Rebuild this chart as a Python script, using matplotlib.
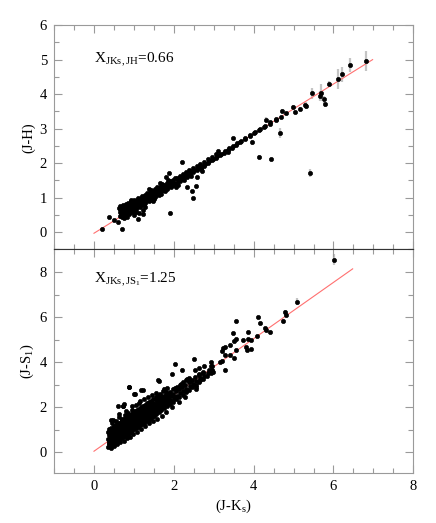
import matplotlib
matplotlib.use('Agg')
import matplotlib.pyplot as plt
from matplotlib.ticker import MultipleLocator

plt.rcParams['font.family'] = ['Liberation Serif', 'DejaVu Serif']
plt.rcParams['mathtext.fontset'] = 'custom'
plt.rcParams['mathtext.rm'] = 'Liberation Serif'
plt.rcParams['mathtext.it'] = 'Liberation Serif:italic'

# ── top panel: (J-Ks) vs (J-H), main sequence ───────────────────────────────
TOP_JK = [
    0.64, 0.655, 0.63,
    0.67, 0.685, 0.66, 0.69,
    0.70, 0.715, 0.69, 0.72,
    0.74, 0.755, 0.73, 0.76,
    0.78, 0.795, 0.77, 0.80,
    0.82, 0.835, 0.81, 0.84, 0.805,
    0.86, 0.875, 0.85, 0.88,
    0.90, 0.915, 0.89, 0.92, 0.885,
    0.94, 0.955, 0.93, 0.96,
    0.98, 0.995, 0.97, 1.00, 0.965,
    1.03, 1.045, 1.02, 1.05,
    1.08, 1.095, 1.07, 1.10, 1.065,
    1.13, 1.145, 1.12, 1.15,
    1.18, 1.195, 1.17, 1.20, 1.165,
    1.24, 1.255, 1.23, 1.26,
    1.30, 1.315, 1.29, 1.32, 1.285,
    1.36, 1.375, 1.35, 1.38,
    1.42, 1.435, 1.41, 1.44, 1.405,
    1.48, 1.495, 1.47, 1.50,
    1.55, 1.565, 1.54, 1.57, 1.535,
    1.62, 1.635, 1.61, 1.64,
    1.69, 1.705, 1.68, 1.71, 1.675,
    1.76, 1.775, 1.75, 1.78,
    1.84, 1.855, 1.83, 1.86, 1.825,
    1.92, 1.935, 1.91, 1.94,
    2.00, 2.015, 1.99, 2.02,
    2.08, 2.095, 2.07, 2.10,
    2.16, 2.175, 2.15,
    2.24, 2.255, 2.23, 2.26,
    2.32, 2.335, 2.31,
    2.40, 2.415, 2.39, 2.42,
    2.49, 2.505, 2.48,
    2.58, 2.595, 2.57,
    2.67, 2.685, 2.66, 2.69,
    2.76, 2.775, 2.75,
    2.86, 2.875, 2.85,
    2.96, 2.975, 2.95,
    3.06, 3.075, 3.05,
    3.16, 3.175,
    3.26, 3.275,
    3.36, 3.375, 3.35,
    3.46, 3.475,
    3.56, 3.575,
    3.66, 3.675,
    3.78, 3.795,
    3.90, 3.915,
    4.02, 4.035,
    4.14, 4.155,
    4.26, 4.275,
    4.40, 4.415,
    4.55, 4.565,
    4.68, 4.80,
    # in-fill
    0.66, 0.72, 0.79, 0.87, 0.95, 1.05, 1.15, 1.27, 1.39, 1.52, 1.66,
    1.80, 1.96, 2.12, 2.28, 2.45,
]
TOP_JH = [
    0.48, 0.58, 0.70,
    0.52, 0.63, 0.76, 0.44,
    0.50, 0.60, 0.68, 0.79,
    0.55, 0.66, 0.74, 0.47,
    0.54, 0.63, 0.72, 0.81,
    0.58, 0.67, 0.76, 0.85, 0.50,
    0.61, 0.71, 0.80, 0.54,
    0.64, 0.73, 0.83, 0.90, 0.57,
    0.66, 0.76, 0.85, 0.60,
    0.69, 0.78, 0.88, 0.94, 0.63,
    0.72, 0.81, 0.90, 0.66,
    0.75, 0.84, 0.93, 1.00, 0.69,
    0.79, 0.88, 0.96, 0.73,
    0.82, 0.91, 1.00, 1.06, 0.76,
    0.86, 0.95, 1.03, 0.80,
    0.90, 0.99, 1.07, 1.14, 0.84,
    0.95, 1.03, 1.11, 0.89,
    0.99, 1.07, 1.15, 1.21, 0.93,
    1.03, 1.11, 1.19, 0.97,
    1.08, 1.16, 1.24, 1.30, 1.02,
    1.13, 1.21, 1.28, 1.07,
    1.18, 1.26, 1.33, 1.39, 1.12,
    1.23, 1.31, 1.38, 1.18,
    1.29, 1.37, 1.44, 1.50, 1.24,
    1.35, 1.42, 1.49, 1.30,
    1.37, 1.44, 1.51, 1.57,
    1.43, 1.50, 1.57, 1.38,
    1.49, 1.56, 1.62,
    1.55, 1.61, 1.68, 1.50,
    1.61, 1.67, 1.73,
    1.66, 1.73, 1.79, 1.62,
    1.73, 1.79, 1.85,
    1.80, 1.86, 1.91,
    1.86, 1.92, 1.98, 1.82,
    1.93, 1.99, 2.04,
    2.00, 2.06, 2.12,
    2.08, 2.13, 2.19,
    2.15, 2.21, 2.26,
    2.23, 2.28,
    2.30, 2.36,
    2.38, 2.43, 2.33,
    2.45, 2.50,
    2.52, 2.58,
    2.60, 2.65,
    2.69, 2.74,
    2.78, 2.82,
    2.87, 2.91,
    2.95, 3.00,
    3.04, 3.09,
    3.14, 3.19,
    3.25, 3.29,
    3.35, 3.44,
    # in-fill
    0.66, 0.56, 0.69, 0.68, 0.72, 0.86, 0.86, 0.98, 1.05, 1.15, 1.24,
    1.34, 1.46, 1.56, 1.66, 1.78,
]

# scattered / red sources in the top panel, with their (J-H) errors
TOP_OUT_JK = [0.20, 0.37, 0.49, 0.60, 0.70, 0.83, 0.99, 1.10, 1.12, 1.24, 1.29,
              1.22, 1.91, 2.21, 1.89, 2.48, 2.46, 2.55, 2.58, 2.33, 3.48, 3.95,
              4.14, 4.44, 4.66, 5.41, 4.30, 4.71, 4.99, 5.04, 5.17, 5.29, 5.30,
              5.46, 5.68, 5.66, 5.76, 5.78, 5.88, 6.11, 6.22, 6.42, 6.81,
              0.75, 0.92, 1.05, 1.38, 1.47, 1.66, 1.80, 2.05, 2.70, 3.10]
TOP_OUT_JH = [0.09, 0.44, 0.34, 0.30, 0.09, 0.44, 0.50, 0.39, 0.55, 0.52, 0.73,
              0.65, 0.56, 2.02, 1.72, 0.99, 1.19, 1.35, 1.61, 1.32, 2.72, 2.60,
              2.18, 2.11, 2.88, 1.72, 3.25, 3.52, 3.62, 3.49, 3.58, 3.69, 3.67,
              4.03, 4.04, 3.94, 3.85, 3.70, 4.30, 4.44, 4.57, 4.84, 4.96,
              0.40, 0.93, 0.58, 1.26, 0.90, 1.43, 1.60, 1.30, 1.76, 2.34]
TOP_OUT_ERR = [0.03, 0.03, 0.03, 0.03, 0.03, 0.03, 0.03, 0.03, 0.03, 0.03, 0.03,
               0.03, 0.03, 0.03, 0.03, 0.03, 0.03, 0.03, 0.03, 0.03, 0.05, 0.06,
               0.05, 0.05, 0.15, 0.11, 0.08, 0.06, 0.06, 0.06, 0.06, 0.07, 0.10,
               0.16, 0.24, 0.14, 0.10, 0.08, 0.07, 0.29, 0.22, 0.20, 0.30,
               0.03, 0.03, 0.03, 0.03, 0.03, 0.03, 0.03, 0.03, 0.04, 0.04]

# ── bottom panel: (J-Ks) vs (J-S1) ──────────────────────────────────────────
BOT_JK = [
    0.36, 0.375, 0.35, 0.37, 0.345,
    0.40, 0.415, 0.39, 0.41, 0.385, 0.42,
    0.44, 0.455, 0.43, 0.45, 0.425, 0.46,
    0.48, 0.495, 0.47, 0.49, 0.465, 0.50, 0.475,
    0.52, 0.535, 0.51, 0.53, 0.505,
    0.56, 0.575, 0.55, 0.57, 0.545, 0.58, 0.555,
    0.60, 0.615, 0.59, 0.61, 0.585, 0.62,
    0.64, 0.655, 0.63, 0.65, 0.625, 0.66, 0.635,
    0.68, 0.695, 0.67, 0.69, 0.665, 0.70,
    0.72, 0.735, 0.71, 0.73, 0.705, 0.74, 0.715,
    0.76, 0.775, 0.75, 0.77, 0.745, 0.78,
    0.80, 0.815, 0.79, 0.81, 0.785, 0.82, 0.795,
    0.84, 0.855, 0.83, 0.85, 0.825, 0.86,
    0.88, 0.895, 0.87, 0.89, 0.865, 0.90, 0.875,
    0.92, 0.935, 0.91, 0.93, 0.905, 0.94,
    0.96, 0.975, 0.95, 0.97, 0.945, 0.98, 0.955,
    1.00, 1.015, 0.99, 1.01, 0.985, 1.02,
    1.05, 1.065, 1.04, 1.06, 1.035, 1.07, 1.045,
    1.10, 1.115, 1.09, 1.11, 1.085, 1.12,
    1.15, 1.165, 1.14, 1.16, 1.135, 1.17, 1.145,
    1.20, 1.215, 1.19, 1.21, 1.185, 1.22,
    1.25, 1.265, 1.24, 1.26, 1.235, 1.27, 1.245,
    1.30, 1.315, 1.29, 1.31, 1.285,
    1.35, 1.365, 1.34, 1.36, 1.335, 1.37, 1.345,
    1.40, 1.415, 1.39, 1.41, 1.385,
    1.45, 1.465, 1.44, 1.46, 1.435, 1.47, 1.445,
    1.50, 1.515, 1.49, 1.51, 1.485,
    1.56, 1.575, 1.55, 1.57, 1.545, 1.58, 1.555,
    1.62, 1.635, 1.61, 1.63, 1.605, 1.64,
    1.68, 1.695, 1.67, 1.69, 1.665, 1.70,
    1.75, 1.765, 1.74, 1.76, 1.735,
    1.82, 1.835, 1.81, 1.83, 1.805, 1.84,
    1.90, 1.915, 1.89, 1.91,
    1.98, 1.995, 1.97, 1.99, 1.965,
    2.06, 2.075, 2.05, 2.07,
    2.14, 2.155, 2.13, 2.15, 2.125,
    2.22, 2.235, 2.21, 2.23,
    2.30, 2.315, 2.29, 2.31, 2.285,
    2.38, 2.395, 2.37, 2.39,
    2.46, 2.475, 2.45,
    2.55, 2.565, 2.54, 2.56,
    2.64, 2.655, 2.63,
    2.74, 2.755, 2.73,
    2.84, 2.855,
    2.94, 2.955, 2.93,
    # in-fill between the columns above
    0.38, 0.42, 0.46, 0.50, 0.54, 0.58, 0.62, 0.66, 0.70, 0.74, 0.78,
    0.82, 0.86, 0.90, 0.94, 0.98, 1.03, 1.08, 1.13, 1.18, 1.23, 1.28,
    1.33, 1.38, 1.43, 1.48, 1.53, 1.59, 1.65, 1.72, 1.79, 1.86, 1.94,
    0.47, 0.55, 0.63, 0.71, 0.79, 0.87, 0.95, 1.04, 1.12, 1.21, 1.30,
    1.39, 1.48, 1.58, 1.69, 1.80, 2.02, 2.18, 2.34,
    0.37, 0.43, 0.49, 0.55, 0.61, 0.67, 0.73, 0.79, 0.85, 0.91, 0.97,
    1.03, 1.09, 1.16, 1.23, 1.30, 1.37, 1.44, 1.52, 1.60, 1.70, 1.80,
    1.92, 2.04,
    0.39, 0.45, 0.51, 0.57, 0.63, 0.69, 0.75, 0.81, 0.87, 0.93, 0.99,
    1.06, 1.13, 1.21, 1.29, 1.37, 1.46, 1.56, 1.68, 1.80,
]
BOT_JS = [
    0.25, 0.42, 0.60, 0.78, 0.92,
    0.30, 0.48, 0.66, 0.85, 1.02, 0.18,
    0.35, 0.52, 0.70, 0.88, 1.10, 1.30,
    0.40, 0.56, 0.74, 0.92, 1.08, 0.28, 1.45,
    0.45, 0.62, 0.80, 0.98, 1.16,
    0.50, 0.66, 0.84, 1.02, 1.22, 0.38, 1.40,
    0.55, 0.72, 0.90, 1.08, 1.26, 1.55,
    0.58, 0.76, 0.94, 1.12, 1.30, 0.45, 1.72,
    0.64, 0.82, 1.00, 1.18, 1.36, 1.50,
    0.68, 0.86, 1.04, 1.22, 1.42, 0.52, 2.06,
    0.72, 0.90, 1.08, 1.26, 1.46, 1.65,
    0.78, 0.96, 1.14, 1.32, 1.50, 0.62, 1.85,
    0.82, 1.00, 1.18, 1.36, 1.56, 1.75,
    0.88, 1.06, 1.24, 1.42, 1.60, 0.70, 2.88,
    0.92, 1.10, 1.28, 1.46, 1.66, 1.90,
    0.98, 1.16, 1.34, 1.52, 1.70, 0.80, 2.05,
    1.02, 1.20, 1.38, 1.56, 1.76, 2.58,
    1.08, 1.26, 1.44, 1.62, 1.82, 0.90, 2.10,
    1.14, 1.32, 1.50, 1.68, 1.88, 2.20,
    1.20, 1.38, 1.56, 1.74, 1.94, 1.02, 2.30,
    1.26, 1.44, 1.62, 1.80, 2.00, 2.76,
    1.32, 1.50, 1.68, 1.86, 2.06, 1.15, 2.35,
    1.38, 1.56, 1.74, 1.92, 2.12,
    1.44, 1.62, 1.80, 1.98, 2.18, 1.28, 2.45,
    1.50, 1.68, 1.86, 2.04, 2.24,
    1.56, 1.74, 1.92, 2.10, 2.30, 1.38, 2.55,
    1.62, 1.80, 1.98, 2.16, 2.36,
    1.70, 1.88, 2.06, 2.24, 2.44, 1.50, 2.62,
    1.78, 1.96, 2.14, 2.32, 2.52, 3.18,
    1.86, 2.04, 2.22, 2.40, 2.60, 1.62,
    1.96, 2.14, 2.32, 2.50, 2.70,
    2.05, 2.22, 2.40, 2.58, 1.78, 2.85,
    2.14, 2.32, 2.50, 2.68,
    2.24, 2.42, 2.60, 2.80, 2.00,
    2.35, 2.52, 2.70, 2.92,
    2.45, 2.62, 2.80, 3.00, 2.22,
    2.56, 2.72, 2.90, 3.10,
    2.66, 2.82, 3.00, 3.20, 2.45,
    2.78, 2.94, 3.10, 3.30,
    2.88, 3.04, 3.22,
    3.00, 3.16, 3.34, 2.80,
    3.12, 3.28, 3.46,
    3.26, 3.40, 3.58,
    3.40, 3.54,
    3.52, 3.66, 3.84,
    # in-fill
    0.52, 0.58, 0.62, 0.70, 0.74, 0.80, 0.84, 0.90, 0.94, 1.00, 1.04,
    1.10, 1.14, 1.20, 1.24, 1.30, 1.36, 1.42, 1.48, 1.54, 1.60, 1.66,
    1.72, 1.78, 1.84, 1.90, 1.96, 2.04, 2.12, 2.20, 2.30, 2.40, 2.50,
    0.86, 0.96, 1.06, 1.16, 1.26, 1.36, 1.46, 1.58, 1.68, 1.80, 1.92,
    2.04, 2.16, 2.28, 2.42, 2.56, 2.84, 3.04, 3.24,
    0.35, 0.43, 0.50, 0.58, 0.65, 0.73, 0.80, 0.88, 0.95, 1.03, 1.10,
    1.18, 1.25, 1.34, 1.43, 1.52, 1.60, 1.69, 1.79, 1.89, 2.02, 2.14,
    2.29, 2.44,
    0.91, 0.98, 1.06, 1.13, 1.21, 1.28, 1.36, 1.43, 1.51, 1.58, 1.66,
    1.75, 1.83, 1.93, 2.03, 2.13, 2.25, 2.37, 2.52, 2.67,
]

# scattered / red sources in the bottom panel, with their (J-S1) errors
BOT_OUT_JK = [0.43, 0.72, 0.61, 0.74, 0.87, 1.00, 1.19, 1.60, 1.76, 2.03, 2.21,
              1.96, 2.41, 2.34, 2.50, 2.53, 2.73, 2.62, 2.66, 2.55, 2.76, 2.64,
              2.89, 2.93, 2.96, 2.98, 3.16, 3.20, 3.29, 3.22, 3.27, 3.20, 3.40,
              3.28, 3.40, 3.50, 3.48, 3.55, 3.57, 3.50, 3.55, 3.73, 3.80, 3.83,
              3.93, 3.85, 3.86, 3.94, 4.09, 4.10, 4.15, 4.28, 4.30, 4.40, 4.74,
              4.79, 4.81, 5.09, 6.02]
BOT_OUT_JS = [1.43, 2.06, 2.04, 2.15, 2.90, 2.58, 2.76, 3.20, 2.83, 3.91, 3.67,
              3.46, 3.15, 2.78, 4.13, 3.64, 3.53, 3.43, 3.21, 2.92, 3.82, 3.72,
              3.65, 4.00, 3.85, 3.57, 4.00, 4.07, 3.67, 4.63, 4.67, 4.50, 4.75,
              4.34, 4.32, 4.20, 5.29, 5.04, 4.53, 4.95, 5.81, 5.00, 4.67, 4.56,
              4.60, 5.01, 5.35, 4.97, 5.16, 6.02, 5.75, 5.53, 5.41, 5.34, 5.82,
              6.21, 6.09, 6.69, 8.55]
BOT_OUT_ERR = [0.05] * 54 + [0.10, 0.10, 0.10, 0.14, 0.25]

# reddening-law lines drawn in red
TOP_LINE_JK = [0.0, 6.98]
TOP_LINE_JH = [-0.03, 5.00]
BOT_LINE_JK = [0.0, 6.48]
BOT_LINE_JS = [0.05, 8.14]

# ── figure ──────────────────────────────────────────────────────────────────
fig = plt.figure(figsize=(4.36, 5.23), dpi=100)
L, W = 0.124, 0.824
ax1 = fig.add_axes([L, 0.523, W, 0.429])
ax2 = fig.add_axes([L, 0.095, W, 0.428], sharex=ax1)

ERR_COL = '#c4c4c4'
RED = '#ff7070'
SPINE = '#9a9a9a'


def draw(ax, core_x, core_y, out_x, out_y, out_err, line_x, line_y):
    ax.errorbar(out_x, out_y, yerr=out_err, fmt='none', ecolor=ERR_COL,
                elinewidth=1.6, capsize=0, zorder=1)
    ax.plot(line_x, line_y, color=RED, lw=0.8, zorder=2)
    ax.plot(core_x, core_y, 'o', color='black', ms=3.0, mew=0.5, zorder=3)
    ax.plot(out_x, out_y, 'o', color='black', ms=3.0, mew=0.5, zorder=3)


draw(ax1, TOP_JK, TOP_JH, TOP_OUT_JK, TOP_OUT_JH, TOP_OUT_ERR,
     TOP_LINE_JK, TOP_LINE_JH)
draw(ax2, BOT_JK, BOT_JS, BOT_OUT_JK, BOT_OUT_JS, BOT_OUT_ERR,
     BOT_LINE_JK, BOT_LINE_JS)

ax1.set_xlim(-1, 8)
ax1.set_ylim(-0.5, 6.0)
ax2.set_ylim(-0.93, 9.0)

ax1.xaxis.set_major_locator(MultipleLocator(2))
ax1.xaxis.set_minor_locator(MultipleLocator(0.5))
ax1.yaxis.set_major_locator(MultipleLocator(1))
ax1.yaxis.set_minor_locator(MultipleLocator(0.5))
ax2.yaxis.set_major_locator(MultipleLocator(2))
ax2.yaxis.set_minor_locator(MultipleLocator(1))

for ax in (ax1, ax2):
    ax.tick_params(which='both', direction='in', top=True, right=True,
                   color=SPINE, labelsize=10.5, width=0.8, pad=5)
    ax.tick_params(which='major', length=6)
    ax.tick_params(which='minor', length=3.5)
    for s in ax.spines.values():
        s.set_color(SPINE)
        s.set_linewidth(0.8)
ax1.tick_params(labelbottom=False)
ax1.spines['bottom'].set_color('#333333')
ax2.spines['top'].set_color('#333333')

ax1.set_ylabel('(J-H)', fontsize=10.5, labelpad=3)
ax2.set_ylabel(r'(J-S$_1$)', fontsize=10.5, labelpad=3)
ax2.set_xlabel(r'(J-K$_\mathrm{s}$)', fontsize=10.5, labelpad=3)

ax1.text(0.0, 5.0, r'X$_{\mathrm{JKs,JH}}$=0.66', fontsize=11,
         ha='left', va='center')
ax2.text(0.0, 7.65, r'X$_{\mathrm{JKs,JS_1}}$=1.25', fontsize=11,
         ha='left', va='center')

fig.savefig('out.png', dpi=100, facecolor='white')
